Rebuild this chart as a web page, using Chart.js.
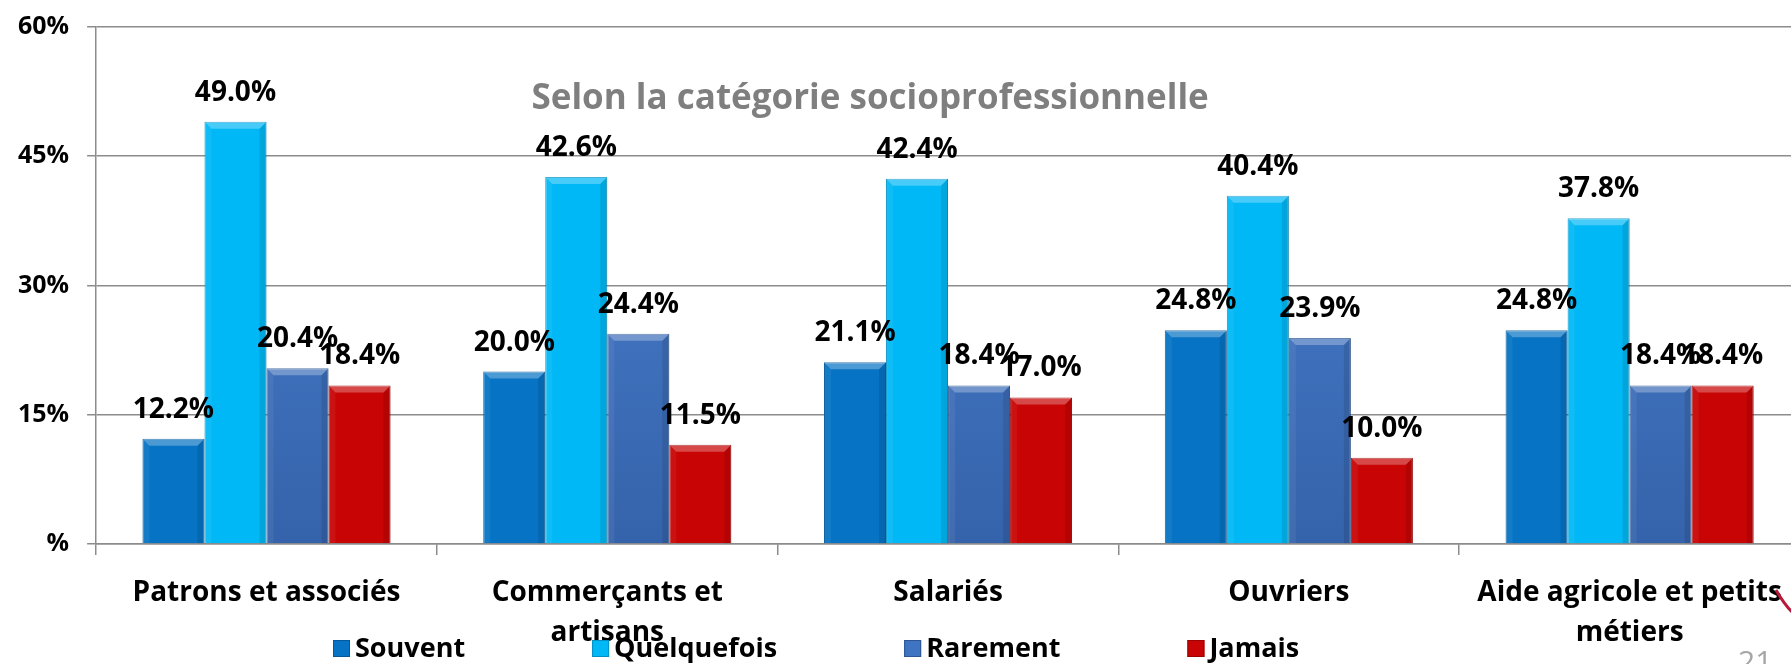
<!DOCTYPE html>
<html>
<head>
<meta charset="utf-8">
<script src="https://cdn.jsdelivr.net/npm/chart.js@4/dist/chart.umd.min.js"></script>
<style>
  html, body { margin: 0; padding: 0; background: #fff; overflow: hidden; }
  #wrap { width: 1800px; height: 670px; position: relative; margin-top: -6px; }
</style>
</head>
<body>
<div id="wrap"><canvas id="csp"></canvas></div>
<script>
// données
const categories = [
    'Patrons et associés',
    ['Commerçants et', 'artisans'],
    'Salariés',
    'Ouvriers',
    ['Aide agricole et petits', 'métiers']
];
const souvent = [12.2, 20.0, 21.1, 24.8, 24.8];
const quelquefois = [49.0, 42.6, 42.4, 40.4, 37.8];
const rarement = [20.4, 24.4, 18.4, 23.9, 18.4];
const jamais = [18.4, 11.5, 17.0, 10.0, 18.4];
const yTickLabels = ['%', '15%', '30%', '45%', '60%'];

const FONT = '"Open Sans", "DejaVu Sans", sans-serif';

// dégradé pour la série "Rarement"
function degradeRarement(context) {
    const chart = context.chart;
    const area = chart.chartArea;
    if (!area) return '#3f74c2';
    const g = chart.ctx.createLinearGradient(0, area.top, 0, area.bottom);
    g.addColorStop(0, '#4d84d4');
    g.addColorStop(1, '#3563ab');
    return g;
}

// effet biseauté sur les barres + étiquettes de valeur
const valeursPlugin = {
    id: 'valeurs',
    afterDatasetsDraw(chart) {
        const ctx = chart.ctx;
        ctx.save();
        const b = 7;
        chart.data.datasets.forEach((ds, i) => {
            chart.getDatasetMeta(i).data.forEach(bar => {
                const l = bar.x - bar.width / 2, r = bar.x + bar.width / 2;
                const t = bar.y, bas = bar.base;
                ctx.fillStyle = 'rgba(255,255,255,0.28)';
                ctx.beginPath();
                ctx.moveTo(l, t); ctx.lineTo(r, t); ctx.lineTo(r - b, t + b); ctx.lineTo(l + b, t + b);
                ctx.closePath(); ctx.fill();
                ctx.fillStyle = 'rgba(0,0,0,0.10)';
                ctx.beginPath();
                ctx.moveTo(r, t); ctx.lineTo(r, bas); ctx.lineTo(r - b, bas); ctx.lineTo(r - b, t + b);
                ctx.closePath(); ctx.fill();
                ctx.fillStyle = 'rgba(255,255,255,0.06)';
                ctx.beginPath();
                ctx.moveTo(l, t); ctx.lineTo(l + b, t + b); ctx.lineTo(l + b, bas); ctx.lineTo(l, bas);
                ctx.closePath(); ctx.fill();
            });
        });

        ctx.font = 'bold 28px ' + FONT;
        ctx.fillStyle = '#000';
        ctx.textAlign = 'center';
        ctx.textBaseline = 'middle';
        chart.data.datasets.forEach((ds, i) => {
            chart.getDatasetMeta(i).data.forEach((bar, j) => {
                ctx.fillText(ds.data[j].toFixed(1) + '%', bar.x, bar.y - 29);
            });
        });
        ctx.restore();
    }
};

// titre gris dans la zone du graphique + légende du bas
const decorPlugin = {
    id: 'decor',
    afterDraw(chart) {
        const ctx = chart.ctx;
        const area = chart.chartArea;
        ctx.save();
        ctx.font = 'bold 35px ' + FONT;
        ctx.fillStyle = '#7f7f7f';
        ctx.textAlign = 'center';
        ctx.textBaseline = 'middle';
        ctx.fillText('Selon la catégorie socioprofessionnelle', area.left + 774, area.top + 72);

        // légende
        ctx.font = 'bold 27px ' + FONT;
        ctx.textAlign = 'left';
        let x = 333;
        const y = 655;
        chart.data.datasets.forEach(ds => {
            ctx.fillStyle = ds.legendColor;
            ctx.fillRect(x, y - 9, 17, 17);
            ctx.strokeStyle = ds.borderColor;
            ctx.lineWidth = 1;
            ctx.strokeRect(x + 0.5, y - 8.5, 16, 16);
            ctx.fillStyle = '#000';
            ctx.fillText(ds.label, x + 22, y);
            x += 22 + ctx.measureText(ds.label).width + 127;
        });

        // numéro de page et trait décoratif de la diapositive
        ctx.font = '30px ' + FONT;
        ctx.fillStyle = '#a6a6a6';
        ctx.textBaseline = 'top';
        ctx.fillText('21', 1738, 654);
        ctx.strokeStyle = '#b8193a';
        ctx.lineWidth = 3;
        ctx.beginPath();
        ctx.moveTo(1776, 596);
        ctx.quadraticCurveTo(1784, 610, 1792, 618);
        ctx.stroke();
        ctx.restore();
    }
};

const ctx = document.getElementById('csp').getContext('2d');
const cspChart = new Chart(ctx, {
    type: 'bar',
    data: {
        labels: categories,
        datasets: [{
            label: 'Souvent',
            data: souvent,
            backgroundColor: '#0673c4',
            borderColor: '#05599a',
            legendColor: '#0673c4',
            borderWidth: 1
        }, {
            label: 'Quelquefois',
            data: quelquefois,
            backgroundColor: '#00b8f5',
            borderColor: '#0090c4',
            legendColor: '#00b8f5',
            borderWidth: 1
        }, {
            label: 'Rarement',
            data: rarement,
            backgroundColor: degradeRarement,
            borderColor: '#2c5592',
            legendColor: '#3f74c2',
            borderWidth: 1
        }, {
            label: 'Jamais',
            data: jamais,
            backgroundColor: '#c80404',
            borderColor: '#9a0000',
            legendColor: '#c80404',
            borderWidth: 1
        }]
    },
    options: {
        responsive: true,
        maintainAspectRatio: false,
        animation: false,
        layout: {
            padding: { top: 1, left: 0, right: 0, bottom: -7 }
        },
        datasets: {
            bar: {
                categoryPercentage: 0.728,
                barPercentage: 1
            }
        },
        plugins: {
            legend: { display: false },
            title: { display: false },
            tooltip: { enabled: false }
        },
        scales: {
            y: {
                min: 0,
                max: 60,
                ticks: {
                    stepSize: 15,
                    padding: 18,
                    color: '#000',
                    font: { family: FONT, size: 25, weight: 'bold' },
                    callback: (value, index) => yTickLabels[index]
                },
                grid: {
                    color: '#8c8c8c',
                    lineWidth: 1.5,
                    tickLength: 9
                },
                border: { display: true, color: '#8c8c8c', width: 1.5 }
            },
            x: {
                ticks: {
                    padding: 18,
                    color: '#000',
                    maxRotation: 0,
                    autoSkip: false,
                    font: { family: FONT, size: 28, weight: 'bold', lineHeight: 1.43 }
                },
                grid: {
                    display: true,
                    drawOnChartArea: false,
                    offset: true,
                    color: '#8c8c8c',
                    lineWidth: 1.5,
                    tickLength: 11
                },
                border: { display: true, color: '#8c8c8c', width: 1.5 }
            }
        }
    },
    plugins: [valeursPlugin, decorPlugin]
});
</script>
</body>
</html>
